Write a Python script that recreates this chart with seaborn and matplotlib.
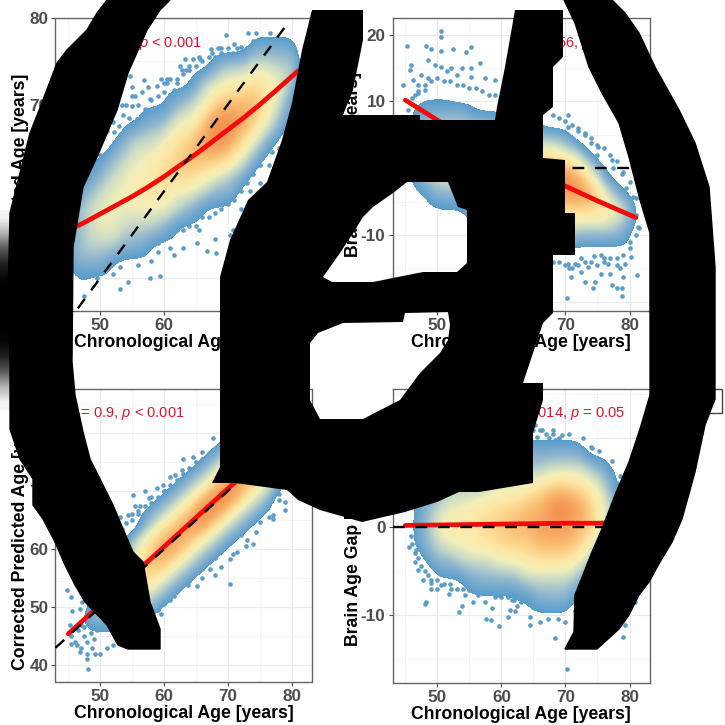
import numpy as np
import seaborn as sns
import matplotlib.pyplot as plt
from matplotlib.patches import PathPatch, Polygon, Rectangle
from matplotlib.path import Path
from matplotlib.ticker import MultipleLocator

sns.set_theme(style="white")
plt.rcParams['font.family'] = ['Liberation Sans', 'DejaVu Sans']
plt.rcParams['mathtext.fontset'] = 'custom'
plt.rcParams['mathtext.rm'] = 'Liberation Sans'
plt.rcParams['mathtext.it'] = 'Liberation Sans:italic'
plt.rcParams['axes.unicode_minus'] = False

age_bins = list(range(44, 84, 2))

# density, one string per age bin, low y to high y
ybins_a = list(range(46, 82, 2))
dens_a = ["000111100000000000", "011222211000000000", "011233321100000000", "001234432100000000",
          "001134443210000000", "000123444321000000", "000123454431100000", "000113455432100000",
          "000012456542110000", "000011346654210000", "000001246764311000", "000001135786431000",
          "000000124799642100", "000000123689753100", "000000012468753100", "000000001246764210",
          "000000000124554210", "000000000012343210", "000000000001123210", "000000000000000000"]

ybins_b = list(range(-22, 24, 2))
dens_b = ["00000000000000000000000", "00000000011222211000000", "00000000112333221100000", "00000001123444321100000",
          "00000001123444321100000", "00000001123554321000000", "00000011234554311000000", "00000011235654311000000",
          "00000112345654211000000", "00000112356753210000000", "00000112457753210000000", "00000123468753110000000",
          "00001123579853100000000", "00001134689742100000000", "00000124688531000000000", "00000124675310000000000",
          "00000124542100000000000", "00000123421000000000000", "00000112210000000000000", "00000000000000000000000"]

ybins_c = list(range(38, 88, 2))
dens_c = ["0000000000000000000000000", "0000000000000000000000000", "0011121110000000000000000", "0001123211000000000000000",
          "0001123432110000000000000", "0000123454321000000000000", "0000113456543110000000000", "0000012356765321000000000",
          "0000001235787532100000000", "0000000123578753210000000", "0000000012357875321000000", "0000000001235898532100000",
          "0000000000123589853210000", "0000000000012358985321000", "0000000000001235787532100", "0000000000000123567653210",
          "0000000000000012345653210", "0000000000000000123443210", "0000000000000000001122110", "0000000000000000000000000"]

ybins_d = list(range(-18, 18, 2))
dens_d = ["000000000000000000", "000000001111000000", "000000012221100000", "000000123432110000",
          "000000124543210000", "000001134543210000", "000001235553211000", "000001235654221000",
          "000001246664321000", "000011246764321000", "000011356775321000", "000012357876321000",
          "000012357897421000", "000012357897421000", "000001246786421000", "000000124665310000",
          "000000012343210000", "000000011221100000", "000000000110000000", "000000000000000000"]

# points outside the dense cloud
pts_a_x = [69.8, 73.2, 74.5, 74, 76.6, 77.6, 67.4, 63.3, 64.6, 65.6, 62.8, 56.8, 54.7, 60.4, 58.9, 55, 55.7, 53.6, 52.1, 50,
           57.8, 61.5, 66.7, 70.8, 80.2, 79.2, 81.3, 53.1, 47.4, 57.8, 59.4, 54.4, 48.1, 46.9, 49.5, 53.1, 61.5, 65.1, 68.2, 66.7,
           70.8, 70.3, 75, 72, 73.5, 76.5, 78, 63, 58, 56, 52, 50.5, 48.5, 47.5, 46.5, 55.5, 60, 62, 64, 67.5,
           69, 71.5, 75.5, 68, 72.5, 74, 59, 61, 65.5, 55, 53.5, 50, 48.5, 77, 79, 80.5, 81,
           48, 49, 50, 51, 52, 53, 54, 54.5, 55, 56, 56.5, 57, 57.5, 58, 59, 59.5, 60, 60.5, 61, 62, 62.5, 63, 63.5, 64, 65, 65.5,
           66, 67, 68, 68.5, 69, 70, 71, 71.5, 72, 73, 74, 75, 76, 77, 78, 79, 80, 81,
           47, 47.5, 48, 49, 50, 51, 52, 53, 54, 55, 56, 57, 58, 59, 60, 61, 62, 63, 64, 65, 66, 67, 68, 69, 70, 71, 72, 73, 74, 75,
           76, 77, 78, 79, 80, 81]
pts_a_y = [78, 78.3, 78.3, 77.3, 78.3, 77.5, 76.4, 75.3, 75.3, 75.3, 74, 72.9, 73.3, 73, 72.1, 69.8, 68.3, 68.8, 66.9, 64.2,
           70.6, 71.7, 74.4, 76, 76.7, 77.5, 75, 48.7, 47.9, 50, 50.2, 49.6, 50.4, 52.5, 50, 51.3, 52.7, 54, 52.9, 53.1,
           55.6, 55, 61, 58, 60, 63, 65, 53.5, 52, 51.5, 50.5, 51, 51.5, 53, 54, 71, 72.5, 73, 74.5, 76,
           76.5, 76.5, 77, 54.5, 56.5, 58.5, 53, 53.5, 55.5, 72, 70, 66, 63, 64.5, 67.5, 72, 74,
           66, 65, 66.5, 67, 68, 67.5, 70, 68.5, 71, 70, 71.5, 69.5, 72, 70.5, 71, 73, 71.5, 72.5, 73, 72.5, 74.5, 73.5, 74, 74, 74.5, 75.5,
           75, 75.5, 75.5, 76.5, 76, 76.5, 77, 76, 76.7, 76.5, 76.3, 76.7, 77, 76.5, 76.7, 76.5, 75.5, 74.5,
           52, 51, 52, 51, 52, 52, 52.5, 53, 52.5, 53, 53.5, 53.5, 54, 54, 55, 55, 55.5, 55.5, 56, 56, 57, 57, 57.5, 58, 58.5, 59, 60, 61, 62, 63,
           64.5, 66, 67, 68, 69, 70.5]

pts_b_x = [45.3, 48.2, 50.5, 50.6, 49, 50.6, 52.4, 55.2, 54.5, 45.9, 45.7, 44.6, 46.2, 47.5, 48.5, 49.6, 50.6, 52.2, 53.8, 55.3,
           56.6, 55.3, 57.4, 59, 45.4, 47, 48, 70.4, 73, 75.1, 70.4, 74, 77.2, 78.8, 80.6, 81.4, 81.1, 78.8, 77.2, 78,
           78.8, 70.2, 70.9, 73, 74.3, 74.6, 73.5, 75.6, 77, 76.7, 79, 80.3, 79.3, 71.5, 70.4, 76, 78, 72.5, 74.5, 80,
           81, 79.5, 77.5, 75, 51.5, 53, 48.5, 47, 46.5, 72, 79.5,
           46, 47, 48, 49, 50, 51, 52, 53, 54, 55, 56, 57, 58, 59, 60, 62, 64, 66, 68, 69, 70, 71, 72, 73, 74, 75, 76, 77, 78, 79, 80, 81,
           70, 70.5, 71, 72, 73, 74, 75, 76, 77, 78, 79, 80, 81, 81.5, 69, 68, 72.5, 75.5, 78.5]
pts_b_y = [18.3, 18.3, 20.5, 19.6, 17.8, 17.5, 17.8, 18.1, 17.4, 15.5, 14.7, 12.5, 13.2, 14, 16.2, 15.5, 15.2, 15, 15, 15,
           15.7, 13.7, 13.5, 13.2, 8.7, 11.2, 11.7, 7.9, 5.3, 3.2, 6.2, 3.7, 1.2, -0.8, -4.3, -8.8, -16, -19.2, -17.5, -17.9,
           -18, -19.5, -16.3, -17, -18, -17, -14.8, -15.8, -15.8, -14.3, -16.3, -13.3, -14.3, -14.3, -14.3, -13.5, -14.5, -13.5, -13.2, -11,
           -7, -3, 0, 2, 14.5, 14, 13.5, 12.5, 11, 5.5, -9,
           10.5, 11.5, 12.5, 13, 13.5, 13, 13, 12.5, 12.5, 12, 12, 11.5, 11, 11, 10.5, 9.5, 9, 8.5, 8, 7.5, 7, 6.5, 6, 5, 4.5, 3.5, 3, 2, 1, -0.5, -2, -4.5,
           -14.5, -15, -15, -14.5, -14, -14, -14.5, -14, -13.5, -13.5, -13, -12, -10, -9, -14, -14, -15.5, -13, -15]

pts_c_x = [48.1, 44.8, 45.5, 45.6, 45.2, 46.9, 46.4, 46.8, 47.9, 49.2, 48.7, 45.5, 47.1, 53.1, 55.2, 57, 57.6, 58.9, 60.9, 63,
           64.6, 65.9, 67.7, 61.7, 54.4, 56.3, 59.9, 62.8, 70.3, 68, 65.1, 63.8, 67.2, 72.9, 74, 72.1, 74.5, 78.9, 78.9, 77.1,
           77.1, 76, 61.5, 60.9, 59.6, 59.1, 58.1, 70.3, 70.8, 75, 66, 69, 71.5, 73, 62.5, 64, 56, 58, 60, 76.5, 78, 53.5, 55,
           51, 52, 53, 54, 55, 56, 57, 58, 59, 60, 61, 62, 63, 64, 65, 66, 67, 68, 52, 50, 49, 48, 55.5, 57.5, 59.5, 61.5, 63.5, 65.5,
           48, 50, 51, 52, 53, 54, 56, 57, 59, 60, 61, 62, 63, 64, 65, 66, 67, 68, 69, 70, 71, 72, 73, 74, 75, 76, 77, 78, 79, 79,
           45.5, 46, 46.5, 47, 47.5, 48, 48.5, 49, 47, 47.5, 48.5, 49.5]
pts_c_y = [39.4, 53, 51.7, 49.4, 47, 49.7, 43.4, 42.2, 42, 42, 43, 43.7, 50.9, 65.6, 69.3, 70.1, 68.8, 70.5, 72.4, 75.6,
           75.9, 76.8, 79.1, 72.7, 65.8, 67.5, 71, 73.6, 54, 55.5, 53.7, 53.9, 56.6, 60.6, 60.9, 62.4, 62.9, 68.1, 66.7, 65.2,
           65.8, 67, 52, 51.3, 48.9, 49.7, 47.7, 58.3, 59.2, 64.7, 55, 57, 59.5, 61.5, 54, 54.5, 66.5, 68, 70, 65.5, 68.5, 63.5, 65,
           60, 62, 63, 64.5, 66, 66, 67.5, 69, 69, 70, 71, 72, 73, 74, 75, 75.5, 76.5, 77.5, 58, 54.5, 53, 51.5, 67.5, 66.5, 68, 70, 72, 74,
           41, 42, 43, 43.5, 44, 45, 46.5, 47, 49.5, 50.5, 52, 53, 54, 55, 56, 56.5, 58, 58.5, 60, 61, 62, 63, 64, 65, 66, 67, 68.5, 69.5, 71, 73,
           45, 44, 46, 47, 45, 44, 45.5, 44.5, 43, 46.5, 47.5, 46]

pts_d_x = [70.3, 68.3, 79, 79.3, 80.8, 59.7, 57.6, 58.4, 53.4, 48, 48.2, 45.5, 46.6, 45.9, 49, 50, 51.8, 53.9, 58.6, 61,
           61.3, 62.1, 64.4, 64.5, 66, 67.3, 68.9, 69.9, 65.2, 71.5, 72.8, 69.4, 68.1, 66.3, 74.1, 75.2, 77.2, 65.2, 70.4, 72,
           75.6, 76.7, 77.7, 78.5, 68.3, 47, 47.8, 49, 50.6, 52.2, 54.3, 56.4, 57.4, 59.5, 61.6, 63.1, 65.7, 67.5, 46.5, 55.5, 71, 73.5, 62.5,
           62, 63, 64, 65, 66, 67, 68, 69, 70, 71, 72, 73, 74, 75, 76, 77, 78, 78.5, 65.5, 67.5, 70.5, 74,
           46, 46.5, 47, 47.5, 48, 48.5, 49, 50, 51, 52, 53, 54, 55, 56, 57, 58, 59, 60, 61, 62, 63, 64, 65, 66, 67, 68, 69, 70, 71, 72]
pts_d_y = [-16.1, -12.6, -12.5, -11.1, -8.5, -11.3, -10.5, -10.6, -9.7, -8.7, -8.5, -2.3, -2.6, -1.1, -7.1, -7.1, -7.6, -9, -9.2, -10.2,
           -9.4, -9.5, -11.1, -10.2, -10.8, -10.4, -10.4, -10.8, -8.1, -9.6, 10, 10.4, 10.9, 10.9, 8.9, 8.6, 7.4, 11.5, 9.6, 8.5,
           6.6, 6.8, 4.9, 5.7, 9.8, -4.9, -6, -6.4, -6.6, -7, -7.7, -7.7, -8.5, -7.7, -8.3, -8.5, -9.2, -9.3, -4, -8.5, 9.2, 8.2, -9,
           11, 11, 11, 11, 11, 10.5, 10.5, 10, 9.5, 9.5, 9, 8.5, 8, 7.5, 7, 6, 5, 3.5, 10.2, 10, 10.5, 9,
           -2, -3, -3.5, -4.5, -5, -5.5, -6, -6, -6.5, -6.5, -7, -7, -7.2, -7, -7.5, -7.5, -8, -8, -8, -8.3, -8, -8.5, -8.8, -8.5, -9, -8.8, -9, -9, -8.5, -8]

# fit lines
fit_a_x = [45, 47.5, 50, 52.5, 55, 57.5, 60, 62.5, 65, 67.5, 70, 72.5, 75, 77.5, 81]
fit_a = [55.5, 56.4, 57.4, 58.4, 59.4, 60.5, 61.7, 63, 64.3, 65.7, 67.1, 68.5, 70, 71.6, 73.9]
fit_x = [45, 50, 55, 60, 65, 70, 75, 81]
fit_b = [10.2, 7.2, 4.5, 2, -0.3, -2.7, -4.9, -7.4]
fit_c = [45.4, 50.4, 55.4, 60.4, 65.4, 70.4, 75.4, 81.4]
fit_d = [0.15, 0.2, 0.25, 0.3, 0.35, 0.4, 0.4, 0.5]

ref_a_x = [46.5, 79.3]
ref_c_x = [43, 83.2]
ref_b_x = [43, 83.2]
ref_b_y = [0, 0]

xticks = [50, 60, 70, 80]
yticks_a = [50, 60, 70, 80]
yticks_b = [-20, -10, 0, 10, 20]
yticks_c = [40, 50, 60, 70, 80]
yticks_d = [-10, 0, 10]

xlabel = "Chronological Age [years]"
ylabels = ["Predicted Age [years]", "Brain Age Gap [years]", "Corrected Predicted Age [years]", "Brain Age Gap [years]"]
notes = [r"$\mathit{r}$ = 0.76, $\mathit{p}$ < 0.001", r"$\mathit{r}$ = -0.56, $\mathit{p}$ < 0.001",
         r"$\mathit{r}$ = 0.9, $\mathit{p}$ < 0.001", r"$\mathit{r}$ = 0.014, $\mathit{p}$ = 0.05"]

W, H = 725, 725
RED = "#e8112d"
cmap = sns.blend_palette(["#5a9dcb", "#8fb6cf", "#c6d9c6", "#f3efb9", "#fde8a6", "#fcd188",
                          "#f9b66e", "#f69f5b", "#f48a48"], as_cmap=True)
cmap.set_under((1, 1, 1, 0))


def panel_ax(fig, l, r, t, b):
    return fig.add_axes([l / W, 1 - b / H, (r - l) / W, (b - t) / H])


def draw_panel(ax, ybins, dens, px, py, fx, fy, rx, ry, xlim, ylim, yticks, ylab, note, note_xy, lab_x, lab_y=0.5):
    ax.set_axisbelow(True)
    grid = np.array([[int(c) for c in col] for col in dens]).T
    ax.imshow(grid, origin="lower", aspect="auto", cmap=cmap, vmin=1.1, vmax=9, interpolation="bicubic",
              interpolation_stage="data", extent=(age_bins[0] - 1, age_bins[-1] + 1, ybins[0] - 1, ybins[-1] + 1),
              zorder=3)
    sns.scatterplot(x=px, y=py, ax=ax, color="#5a9dcb", s=11, linewidth=0, zorder=2)
    sns.lineplot(x=fx, y=fy, ax=ax, color="#f50a0a", lw=3.4, zorder=4, errorbar=None, estimator=None)
    sns.lineplot(x=rx, y=ry, ax=ax, color="black", lw=1.7, zorder=5, errorbar=None,
                 dashes=(5, 4.5), estimator=None, sort=False)
    ax.set_xlim(*xlim)
    ax.set_ylim(*ylim)
    ax.set_xticks(xticks)
    ax.set_yticks(yticks)
    ax.xaxis.set_minor_locator(MultipleLocator(5))
    ax.yaxis.set_minor_locator(MultipleLocator(5))
    ax.grid(True, which="major", color="#ebebeb", lw=0.9)
    ax.grid(True, which="minor", color="#f2f2f2", lw=0.5)
    ax.tick_params(axis="both", which="major", length=3, width=0.8, color="#4d4d4d", labelcolor="#4d4d4d",
                   labelsize=12.3, pad=2, bottom=True, left=True)
    ax.tick_params(axis="both", which="minor", length=0)
    for t in ax.get_xticklabels() + ax.get_yticklabels():
        t.set_fontweight("bold")
    for s in ax.spines.values():
        s.set_color("#666666")
        s.set_linewidth(1.0)
    ax.set_xlabel(xlabel, fontsize=12.7, fontweight="bold", color="black", va="center")
    ax.set_ylabel(ylab, fontsize=12.7, fontweight="bold", color="black", va="center")
    ax.xaxis.set_label_coords(0.5, -0.107)
    ax.yaxis.set_label_coords(lab_x, lab_y)
    ax.text(note_xy[0], note_xy[1], note, transform=ax.figure.transFigure, color=RED, fontsize=10.5,
            ha="right", va="center", zorder=6)


fig = plt.figure(figsize=(W / 100, H / 100), dpi=100)
xlim = (43.0, 83.2)

ax_a = panel_ax(fig, 55.5, 312, 18, 311)
draw_panel(ax_a, ybins_a, dens_a, pts_a_x, pts_a_y, fit_a_x, fit_a, ref_a_x, ref_a_x, xlim, (46.2, 80), yticks_a,
           ylabels[0], notes[0], (202 / W, 1 - 43 / H), -0.138)
ax_b = panel_ax(fig, 392.5, 650, 18, 311)
draw_panel(ax_b, ybins_b, dens_b, pts_b_x, pts_b_y, fit_x, fit_b, ref_b_x, ref_b_y, xlim, (-21.4, 22.5), yticks_b,
           ylabels[1], notes[1], (645 / W, 1 - 43 / H), -0.153)
ax_c = panel_ax(fig, 55.5, 312, 389, 682)
draw_panel(ax_c, ybins_c, dens_c, pts_c_x, pts_c_y, fit_x, fit_c, ref_c_x, ref_c_x, xlim, (37.1, 87.6), yticks_c,
           ylabels[2], notes[2], (185 / W, 1 - 414 / H), -0.138)
ax_d = panel_ax(fig, 392.5, 650, 389, 683)
draw_panel(ax_d, ybins_d, dens_d, pts_d_x, pts_d_y, fit_x, fit_d, ref_b_x, ref_b_y, xlim, (-17.7, 15.6), yticks_d,
           ylabels[3], notes[3], (625 / W, 1 - 414 / H), -0.153, lab_y=0.44)

# big black shape lying on top of the whole figure, traced in pixels
over = fig.add_axes([0, 0, 1, 1], facecolor="none", zorder=10)
over.axis("off")

left_paren = [(107, 0), (97, 13), (87, 30), (67, 50), (57, 63), (38, 113), (30, 133), (10, 213), (8, 300), (10, 362),
              (10, 429), (20, 459), (33, 479), (33, 505), (43, 519), (55, 542), (65, 565), (75, 585), (85, 602),
              (107, 625), (118, 645), (128, 649), (160, 649), (160, 629), (150, 602), (143, 562), (133, 552),
              (123, 529), (113, 505), (103, 485), (90, 459), (83, 432), (75, 395), (72, 362), (73, 247), (83, 187),
              (97, 157), (117, 110), (128, 73), (147, 30), (160, 10), (170, 0)]
right_paren = [(564, 0), (612, 0), (625, 13), (639, 33), (655, 67), (679, 110), (695, 143), (709, 187), (715, 267),
               (715, 399), (705, 425), (695, 472), (682, 519), (672, 542), (660, 562), (649, 582), (639, 595),
               (629, 615), (619, 629), (597, 649), (565, 649), (574, 632), (575, 595), (592, 552), (602, 529),
               (615, 495), (629, 462), (640, 429), (650, 395), (650, 233), (640, 200), (629, 157), (619, 123),
               (602, 93), (589, 67), (575, 23)]
mid_outer = [(312, 10), (363, 10), (363, 40), (353, 90), (343, 115), (420, 115), (420, 120), (495, 120), (497, 107),
             (505, 67), (515, 10), (563, 10), (563, 57), (553, 67), (553, 107), (543, 115), (543, 158), (565, 160),
             (565, 213), (575, 213), (575, 255), (553, 255), (553, 313), (543, 323), (533, 353), (523, 383),
             (543, 383), (543, 400), (533, 433), (533, 483), (479, 492), (459, 492), (437, 502), (405, 512),
             (362, 522), (320, 510), (298, 500), (287, 490), (235, 483), (212, 483), (220, 467), (220, 277),
             (230, 240), (248, 200), (267, 182), (282, 140), (292, 103), (302, 50)]
hole_1 = [(373, 207), (393, 193), (407, 182), (448, 182), (458, 207), (467, 210), (467, 263), (457, 272), (423, 272),
          (373, 282), (332, 282), (323, 277), (340, 253), (353, 233), (363, 217)]
hole_2 = [(318, 333), (343, 323), (403, 322), (405, 313), (448, 312), (450, 325), (448, 340), (440, 353), (420, 373),
          (400, 400), (363, 419), (320, 419), (310, 400), (310, 343)]
edge_fade = [0.95, 0.7, 0.35, 0.12, 0.02, 0, 0, 0, 0.02, 0.12, 0.35, 0.7, 0.95]

over.imshow(np.array(edge_fade)[:, None], cmap="gray", vmin=0, vmax=1, aspect="auto", interpolation="bilinear",
            extent=(0, 10, 410, 210), zorder=1)
over.set_xlim(0, W)
over.set_ylim(H, 0)
over.add_patch(Rectangle((650, 389), 72, 24, fill=False, ec="#444444", lw=1.0, zorder=1))
over.add_patch(Polygon(left_paren, closed=True, fc="black", ec="black", lw=1, zorder=2))
over.add_patch(Polygon(right_paren, closed=True, fc="black", ec="black", lw=1, zorder=2))

verts, codes = [], []
for ring in (mid_outer, hole_1[::-1], hole_2[::-1]):
    verts += ring + [ring[0]]
    codes += [Path.MOVETO] + [Path.LINETO] * (len(ring) - 1) + [Path.CLOSEPOLY]
over.add_patch(PathPatch(Path(verts, codes), fc="black", ec="none", zorder=2))

fig.savefig("out.png", dpi=100)
